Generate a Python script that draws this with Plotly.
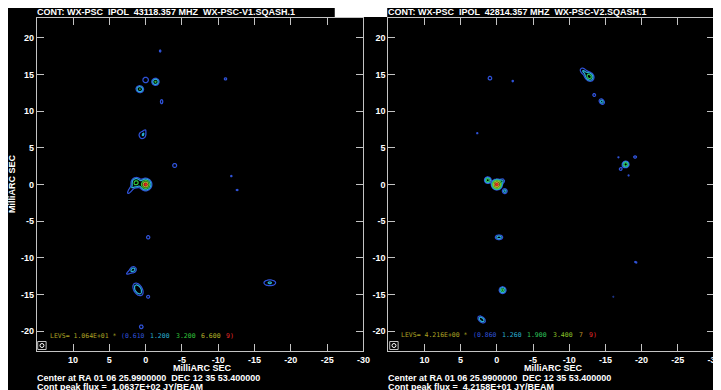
import numpy as np
import plotly.graph_objects as go

# the page body adds an 8px margin, so the figure is placed at (8, 8) in the window
OFF = 8
WIN_W, WIN_H = 721, 390
W, H = WIN_W - OFF, WIN_H - OFF

# ---------------- data ----------------
TITLE_L = "CONT: WX-PSC  IPOL  43118.357 MHZ  WX-PSC-V1.SQASH.1"
TITLE_R = "CONT: WX-PSC  IPOL  42814.357 MHZ  WX-PSC-V2.SQASH.1"
CENTER_TXT = "Center at RA 01 06 25.9900000  DEC 12 35 53.400000"
PEAK_L = "Cont peak flux =  1.0637E+02 JY/BEAM"
PEAK_R = "Cont peak flux =  4.2158E+01 JY/BEAM"
AXIS_LABEL = "MilliARC SEC"

LEVS_BASE_L = 1.064e1
LEVS_L = [0.61, 1.2, 3.2, 6.6, 9.0]
LEVS_LABELS_L = ["(0.610", "1.200", "3.200", "6.600", "9)"]
LEVS_BASE_R = 4.216
LEVS_R = [0.86, 1.26, 1.9, 3.4, 7.0, 9.0]
LEVS_LABELS_R = ["(0.860", "1.260", "1.900", "3.400", "7", "9)"]

X_TICKS = [10, 5, 0, -5, -10, -15, -20, -25, -30]
Y_TICKS = [20, 15, 10, 5, 0, -5, -10, -15, -20]
X_RANGE = [15, -30]
Y_RANGE = [-22.7, 22.7]

# Source components (mas, peak in units of the LEVS base)
# left map (V1)
L_X    = [0.0, 1.3, 2.0, -4.0, -2.0, 0.0, -1.36, 0.8, -2.2, -11.0, 0.45, 0.15, -11.8, -12.6, -0.35, 1.7, 2.3, 1.05, -0.35, 0.6, -17.1]
L_Y    = [0.0, 0.25, -0.6, 2.6, 18.2, 14.25, 14.0, 13.0, 11.3, 14.4, 6.75, 7.2, 1.15, -0.75, -7.2, -11.6, -12.0, -14.3, -15.3, -19.4, -13.4]
L_PEAK = [10.0, 4.0, 1.1, 0.8, 0.66, 0.9, 3.4, 3.3, 0.75, 0.7, 1.0, 0.5, 0.66, 0.66, 0.75, 1.4, 0.8, 2.5, 0.75, 0.8, 1.3]
L_SMAJ = [0.36, 0.36, 0.7, 0.36, 0.4, 0.42, 0.26, 0.28, 0.45, 0.3, 0.45, 0.5, 0.25, 0.35, 0.35, 0.3, 0.5, 0.56, 0.3, 0.33, 0.65]
L_SMIN = [0.36, 0.36, 0.2, 0.36, 0.25, 0.42, 0.26, 0.25, 0.25, 0.3, 0.45, 0.15, 0.25, 0.2, 0.35, 0.3, 0.2, 0.34, 0.3, 0.33, 0.32]
L_ANG  = [0, 0, -53, 0, 90, 0, 0, 20, 90, 0, 0, 115, 0, 0, 0, 0, -32, 58, 0, 0, 0]

# right map (V2)
R_X    = [0.0, 1.25, -0.8, -1.1, -12.8, -11.9, -13.45, -14.5, -17.8, -19.1, -17.1, -16.8, -18.2, 0.95, -2.2, 2.7, -19.2, -16.1, -0.3, -0.8, 2.1]
R_Y    = [0.0, 0.6, 0.5, -0.9, 14.7, 15.5, 12.2, 11.3, 2.75, 3.75, 2.1, 3.7, 1.25, 14.5, 14.1, 7.0, -10.6, -15.3, -7.2, -14.4, -18.4]
R_PEAK = [10.0, 2.5, 1.2, 1.5, 2.3, 1.2, 1.05, 1.5, 2.6, 1.0, 1.0, 0.92, 0.92, 1.1, 0.92, 0.9, 0.95, 0.88, 1.6, 2.2, 1.7]
R_SMAJ = [0.33, 0.3, 0.28, 0.3, 0.47, 0.47, 0.28, 0.38, 0.3, 0.35, 0.28, 0.2, 0.2, 0.33, 0.25, 0.25, 0.35, 0.2, 0.45, 0.33, 0.5]
R_SMIN = [0.33, 0.3, 0.28, 0.3, 0.4, 0.36, 0.28, 0.28, 0.3, 0.25, 0.28, 0.2, 0.2, 0.33, 0.25, 0.25, 0.2, 0.2, 0.28, 0.33, 0.3]
R_ANG  = [0, 0, 0, 0, 45, 45, 0, 50, 0, 0, 0, 0, 0, 0, 0, 0, 30, 0, 0, 0, 39]

COLORS_L = ["#2f52d8", "#2aaed0", "#33c43c", "#b8b42a", "#e62a2a"]
COLORS_R = ["#2f52d8", "#2aaed0", "#2fc45a", "#8cc42a", "#c49a2a", "#e62a2a"]
LEVS_HEAD_COLOR = "#aca424"

FRAME = "#c4c4c4"
FONT = "Liberation Sans"
MONO = "DejaVu Sans Mono"

GRID_X = np.arange(-30.6, 15.61, 0.1)
GRID_Y = np.arange(-23.0, 23.01, 0.1)


def model(xs, ys, peaks, smaj, smin, ang):
    X, Y = np.meshgrid(GRID_X, GRID_Y)
    z = np.zeros_like(X)
    for x0, y0, a, s1, s2, t in zip(xs, ys, peaks, smaj, smin, ang):
        th = np.deg2rad(t)
        dx, dy = X - x0, Y - y0
        u = dx * np.cos(th) + dy * np.sin(th)
        v = -dx * np.sin(th) + dy * np.cos(th)
        z += a * np.exp(-0.5 * (u ** 2 / s1 ** 2 + v ** 2 / s2 ** 2))
    return z


def level_index(z, levels):
    xp = [0.0] + list(levels) + [1000.0]
    fp = list(range(len(levels) + 2))
    return np.interp(z, xp, fp).astype(np.float32)


def contour_trace(z, levels, colors, xa, ya):
    n = len(levels)
    cs = [[i / (n - 1), c] for i, c in enumerate(colors)]
    return go.Contour(
        x=GRID_X, y=GRID_Y, z=level_index(z, levels),
        contours=dict(start=1, end=n, size=1, coloring="lines"),
        colorscale=cs, zauto=False, zmin=1, zmax=n, showscale=False,
        line=dict(width=1.25, smoothing=0.6), hoverinfo="skip",
        xaxis=xa, yaxis=ya,
    )


zl = model(L_X, L_Y, L_PEAK, L_SMAJ, L_SMIN, L_ANG)
zr = model(R_X, R_Y, R_PEAK, R_SMAJ, R_SMIN, R_ANG)

fig = go.Figure()
fig.add_trace(contour_trace(zl, LEVS_L, COLORS_L, "x", "y"))
fig.add_trace(contour_trace(zr, LEVS_R, COLORS_R, "x2", "y2"))


# window pixel -> figure paper fraction
def px(x):
    return (x - OFF) / W


def py(y):
    return 1 - (y - OFF) / H


tickfont = dict(family=FONT, size=9, color="white", weight="bold")
ax_common = dict(ticks="inside", ticklen=7, tickwidth=1, tickcolor=FRAME,
                 showline=True, linecolor=FRAME, linewidth=1, mirror="ticks",
                 showgrid=False, zeroline=False, tickfont=tickfont, fixedrange=True)
xcommon = dict(ax_common, tickvals=X_TICKS, ticktext=[str(v) for v in X_TICKS], range=X_RANGE)
ycommon = dict(ax_common, tickvals=Y_TICKS, ticktext=[str(v) for v in Y_TICKS], range=Y_RANGE,
               domain=[py(351), py(18)])

fig.update_layout(
    width=W, height=H, margin=dict(l=0, r=0, t=0, b=0),
    paper_bgcolor="black", plot_bgcolor="black", showlegend=False,
    xaxis=dict(xcommon, domain=[px(37), px(367)], anchor="y"),
    yaxis=dict(ycommon, anchor="x"),
    xaxis2=dict(xcommon, domain=[px(392), 1.0], anchor="y2"),
    yaxis2=dict(ycommon, anchor="x2"),
)

ann = []
txt_font = dict(family=FONT, size=9, color="white", weight="bold")


def text(x, y, s, font=txt_font, xanchor="left", **kw):
    ann.append(dict(x=px(x), y=py(y), xref="paper", yref="paper", text=s, showarrow=False,
                    xanchor=xanchor, yanchor="middle", font=font, borderpad=0, **kw))


for x0, title, peak in [(37, TITLE_L, PEAK_L), (392, TITLE_R, PEAK_R)]:
    text(x0 - 1, 12, title)
    text(x0 + 167, 368, AXIS_LABEL, xanchor="center")
    text(x0 - 1, 377.5, CENTER_TXT)
    text(x0 - 1, 386.5, peak)

text(12, 183, AXIS_LABEL, textangle=-90, xanchor="center")

# LEVS legends
mono = lambda c: dict(family=MONO, size=6.5, color=c)
text(49, 336, f"LEVS= {LEVS_BASE_L:.3E} *", font=mono(LEVS_HEAD_COLOR))
for xx, lab, col in zip([121.5, 150.5, 176.5, 201.5, 227.5], LEVS_LABELS_L, COLORS_L):
    text(xx, 336, lab, font=mono(col))
text(404, 335, f"LEVS= {LEVS_BASE_R:.3E} *", font=mono(LEVS_HEAD_COLOR))
for xx, lab, col in zip([476.5, 505.5, 531.5, 557.5, 583.5, 593.5], LEVS_LABELS_R, COLORS_R):
    text(xx, 335, lab, font=mono(col))

fig.update_layout(annotations=ann)

# white strip above the right-hand map and beam boxes
shapes = [
    dict(type="rect", xref="paper", yref="paper", x0=px(338), x1=px(391), y0=py(17), y1=1,
         fillcolor="white", line_width=0, layer="above"),
    dict(type="rect", xref="paper", yref="paper", x0=px(391), x1=1, y0=py(8), y1=1,
         fillcolor="white", line_width=0, layer="above"),
]
for bx in (38, 393.5):
    shapes.append(dict(type="rect", xref="paper", yref="paper", x0=px(bx), x1=px(bx + 8.5),
                       y0=py(349.5), y1=py(341.5), line=dict(color=FRAME, width=1)))
    shapes.append(dict(type="circle", xref="paper", yref="paper", x0=px(bx + 2.3), x1=px(bx + 6.3),
                       y0=py(347.5), y1=py(343.5), line=dict(color="white", width=1)))
fig.update_layout(shapes=shapes)

fig.write_html("out.html")
